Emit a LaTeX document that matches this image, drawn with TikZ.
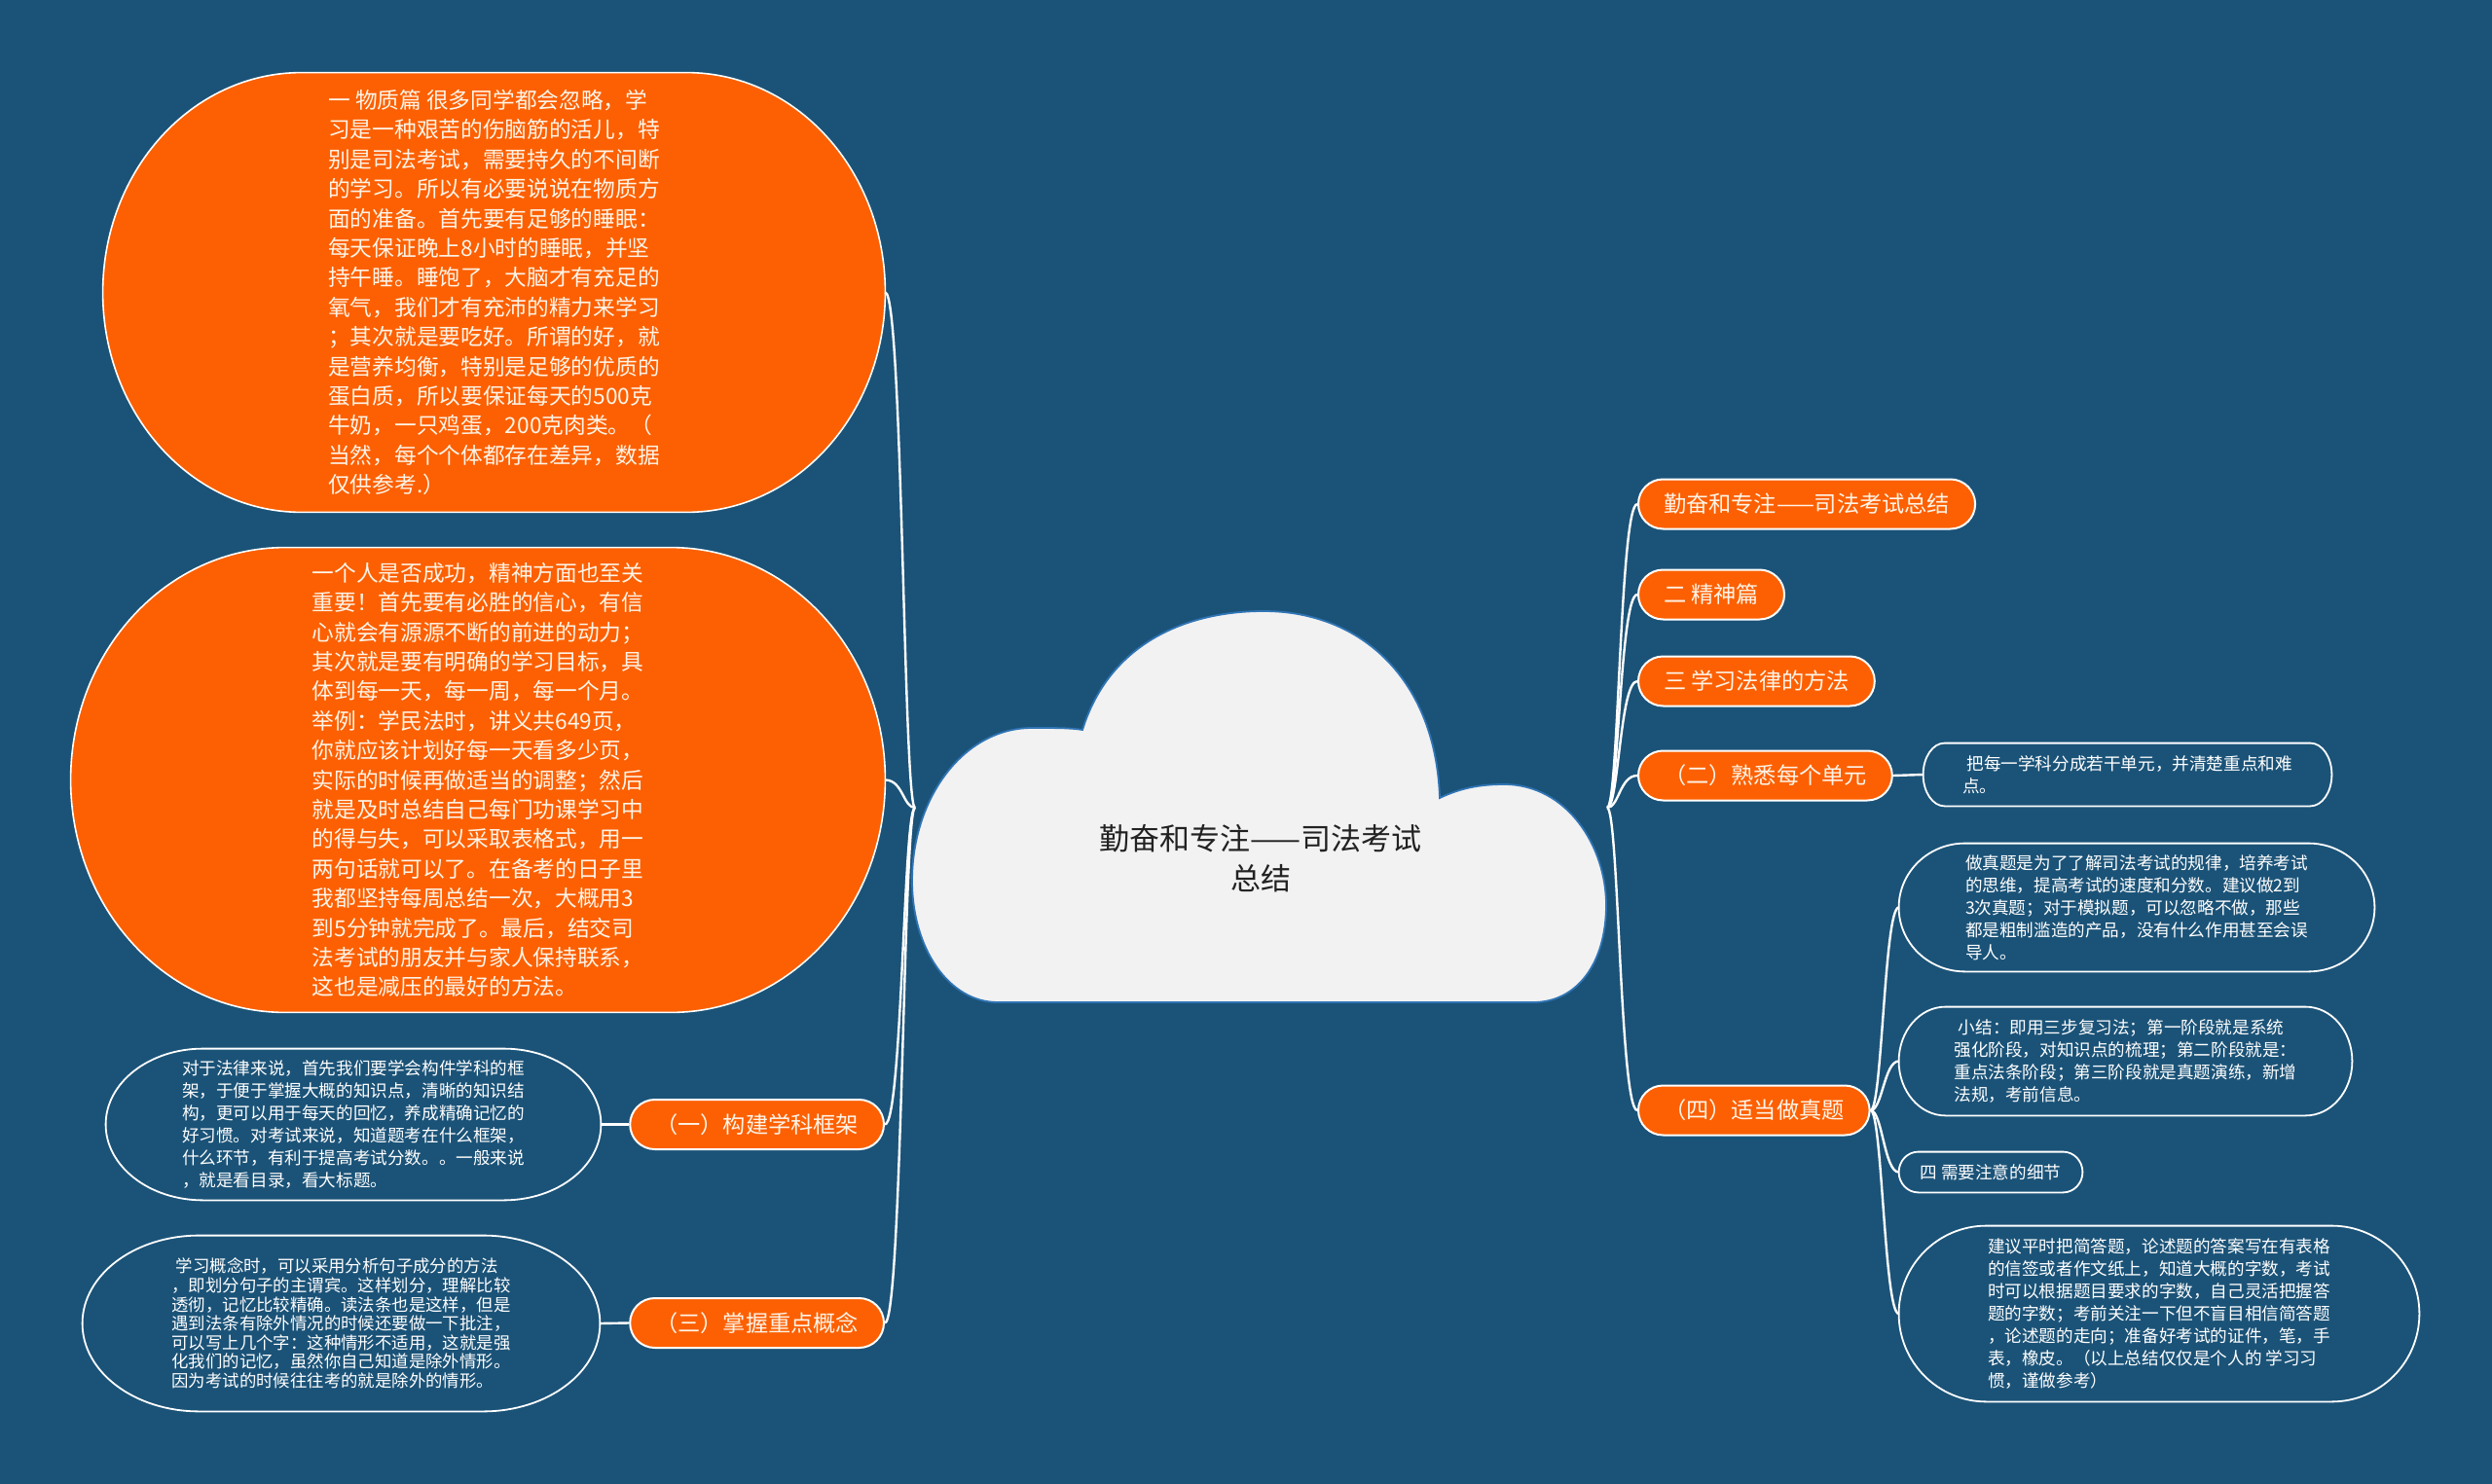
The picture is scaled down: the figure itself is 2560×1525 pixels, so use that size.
\documentclass[tikz,border=0pt]{standalone}
\usepackage{fontspec}
\setmainfont{Noto Sans CJK SC}
\usetikzlibrary{calc}
\pgfdeclarelayer{bglayer}
\pgfdeclarelayer{shapelayer}
\pgfsetlayers{bglayer,shapelayer,main}
\definecolor{bgc}{RGB}{27,83,120}
\definecolor{orangeC}{RGB}{252,96,2}
\definecolor{cloudfill}{RGB}{242,242,242}
\definecolor{cloudline}{RGB}{47,116,181}
\definecolor{cream}{RGB}{255,244,232}
\definecolor{darktext}{RGB}{34,34,34}
\newcommand\drawblob[3]{%
 \path[#1] let \p1=(#2.north west), \p2=(#2.south east), \n1={(\y1-\y2)/2}, \n2={#3pt} in
 (\x1+\n2,\y1) -- (\x2-\n2,\y1)
 .. controls (\x2-0.4477*\n2,\y1) and (\x2,\y1-0.4477*\n1) .. (\x2,\y1-\n1)
 .. controls (\x2,\y2+0.4477*\n1) and (\x2-0.4477*\n2,\y2) .. (\x2-\n2,\y2)
 -- (\x1+\n2,\y2)
 .. controls (\x1+0.4477*\n2,\y2) and (\x1,\y2+0.4477*\n1) .. (\x1,\y2+\n1)
 .. controls (\x1,\y1-0.4477*\n1) and (\x1+0.4477*\n2,\y1) .. (\x1+\n2,\y1) -- cycle;}
\begin{document}
\begin{tikzpicture}[x=0.5pt,y=-0.5pt,
 bigtext/.style={draw=none, inner sep=0pt, align=left, text=cream, font=\fontsize{11.35pt}{15.2pt}\selectfont},
 leaftext/.style={draw=none, inner sep=0pt, align=left, text=white, font=\fontsize{8.8pt}{11.45pt}\selectfont},
 pill/.style={rectangle, rounded corners=12.75pt, fill=orangeC, draw=white, line width=1pt, text=cream, font=\fontsize{11.6pt}{13pt}\selectfont, minimum height=25.5pt, inner xsep=13pt, inner ysep=0pt},
 conn/.style={draw=white, line width=1.2pt},
 oblob/.style={fill=orangeC, draw=white, line width=0.8pt},
 lblob/.style={draw=white, line width=0.9pt},
 cloudsty/.style={fill=cloudfill, draw=cloudline, line width=0.9pt}]
\useasboundingbox (0,0) rectangle (2560,1525);
\begin{pgfonlayer}{bglayer}
\fill[bgc] (0,0) rectangle (2560,1525);
\end{pgfonlayer}

% root
\node[draw=none, align=center, text=darktext, font=\fontsize{15.5pt}{20.5pt}\selectfont] (root) at (1295,882) {勤奋和专注——司法考试\\总结};
\coordinate (rootL) at (940,830);
\coordinate (rootR) at (1651,830);

% left big bubbles
\node[bigtext, minimum width=401.5pt, minimum height=225.5pt] (b1) at (507.5,300.5) {一 物质篇 很多同学都会忽略，学\\习是一种艰苦的伤脑筋的活儿，特\\别是司法考试，需要持久的不间断\\的学习。所以有必要说说在物质方\\面的准备。首先要有足够的睡眠：\\每天保证晚上8小时的睡眠，并坚\\持午睡。睡饱了，大脑才有充足的\\氧气，我们才有充沛的精力来学习\\；其次就是要吃好。所谓的好，就\\是营养均衡，特别是足够的优质的\\蛋白质，所以要保证每天的500克\\牛奶，一只鸡蛋，200克肉类。（\\当然，每个个体都存在差异，数据\\仅供参考.）};
\node[bigtext, minimum width=418pt, minimum height=238.5pt] (b2) at (491,801.5) {一个人是否成功，精神方面也至关\\重要！首先要有必胜的信心，有信\\心就会有源源不断的前进的动力；\\其次就是要有明确的学习目标，具\\体到每一天，每一周，每一个月。\\举例：学民法时，讲义共649页，\\你就应该计划好每一天看多少页，\\实际的时候再做适当的调整；然后\\就是及时总结自己每门功课学习中\\的得与失，可以采取表格式，用一\\两句话就可以了。在备考的日子里\\我都坚持每周总结一次，大概用3\\到5分钟就完成了。最后，结交司\\法考试的朋友并与家人保持联系，\\这也是减压的最好的方法。};

% left labels and leaves
\node[pill, anchor=east] (l1) at (909,1155.5) {（一）构建学科框架};
\node[pill, anchor=east] (l3) at (909,1359.5) {（三）掌握重点概念};
\node[leaftext, minimum width=254pt, minimum height=77.5pt] (s1) at (363,1155.5) {对于法律来说，首先我们要学会构件学科的框\\架，于便于掌握大概的知识点，清晰的知识结\\构，更可以用于每天的回忆，养成精确记忆的\\好习惯。对考试来说，知道题考在什么框架，\\什么环节，有利于提高考试分数。。一般来说\\，就是看目录，看大标题。};
\node[leaftext, font=\fontsize{8.7pt}{9.8pt}\selectfont, minimum width=265.5pt, minimum height=90pt] (s2) at (350.5,1360) {\hspace*{0.25em}学习概念时，可以采用分析句子成分的方法\\，即划分句子的主谓宾。这样划分，理解比较\\透彻，记忆比较精确。读法条也是这样，但是\\遇到法条有除外情况的时候还要做一下批注，\\可以写上几个字：这种情形不适用，这就是强\\化我们的记忆，虽然你自己知道是除外情形。\\因为考试的时候往往考的就是除外的情形。};

% right labels
\node[pill, anchor=west] (r1) at (1682,518) {勤奋和专注——司法考试总结};
\node[pill, anchor=west] (r2) at (1682,611) {二 精神篇};
\node[pill, anchor=west] (r3) at (1682,700) {三 学习法律的方法};
\node[pill, anchor=west] (r4) at (1682,797) {（二）熟悉每个单元};
\node[pill, anchor=west] (r5) at (1682,1141) {（四）适当做真题};

% right leaves
\node[leaftext, minimum width=209.5pt, minimum height=32pt] (q1) at (2185.5,796) {\hspace*{0.25em}把每一学科分成若干单元，并清楚重点和难\\点。};
\node[leaftext, minimum width=244pt, minimum height=65.5pt] (q2) at (2195,932.5) {做真题是为了了解司法考试的规律，培养考试\\的思维，提高考试的速度和分数。建议做2到\\3次真题；对于模拟题，可以忽略不做，那些\\都是粗制滥造的产品，没有什么作用甚至会误\\导人。};
\node[leaftext, minimum width=232.5pt, minimum height=55.5pt] (q3) at (2183.5,1090.5) {\hspace*{0.25em}小结：即用三步复习法；第一阶段就是系统\\强化阶段，对知识点的梳理；第二阶段就是：\\重点法条阶段；第三阶段就是真题演练，新增\\法规，考前信息。};
\node[leaftext, minimum width=94pt, minimum height=20.5pt] (q4) at (2045,1204.5) {四 需要注意的细节};
\node[leaftext, minimum width=267pt, minimum height=90pt] (q5) at (2218,1350) {建议平时把简答题，论述题的答案写在有表格\\的信签或者作文纸上，知道大概的字数，考试\\时可以根据题目要求的字数，自己灵活把握答\\题的字数；考前关注一下但不盲目相信简答题\\，论述题的走向；准备好考试的证件，笔，手\\表，橡皮。（以上总结仅仅是个人的 学习习\\惯，谨做参考）};

\begin{pgfonlayer}{shapelayer}
% cloud
\path[cloudsty] (1112,750) .. controls (1140,660) and (1220,628) .. (1298,628)
 .. controls (1400,628) and (1475,700) .. (1479,820)
 .. controls (1500,810) and (1520,806) .. (1545,806)
 .. controls (1610,806) and (1650,870) .. (1650,930)
 .. controls (1650,990) and (1620,1030) .. (1575,1030)
 -- (1025,1030) .. controls (975,1030) and (937,975) .. (937,905)
 .. controls (937,820) and (990,748) .. (1060,748)
 .. controls (1085,748) and (1100,748) .. (1112,750) -- cycle;
% bubbles
\drawblob{oblob}{b1}{102}
\drawblob{oblob}{b2}{110}
\drawblob{lblob}{s1}{50}
\drawblob{lblob}{s2}{60}
\drawblob{lblob}{q1}{11}
\drawblob{lblob}{q2}{34}
\drawblob{lblob}{q3}{24}
\drawblob{lblob}{q4}{10}
\drawblob{lblob}{q5}{45}
% connectors
\draw[conn] (rootL) .. controls +(-12,0) and +(18,0) .. (b1.east);
\draw[conn] (rootL) .. controls +(-12,0) and +(18,0) .. (b2.east);
\draw[conn] (rootL) .. controls +(-12,0) and +(18,0) .. (l1.east);
\draw[conn] (rootL) .. controls +(-12,0) and +(18,0) .. (l3.east);
\draw[conn] (l1.west) -- (s1.east);
\draw[conn] (l3.west) -- (s2.east);
\draw[conn] (rootR) .. controls +(12,0) and +(-18,0) .. (r1.west);
\draw[conn] (rootR) .. controls +(12,0) and +(-18,0) .. (r2.west);
\draw[conn] (rootR) .. controls +(12,0) and +(-18,0) .. (r3.west);
\draw[conn] (rootR) .. controls +(12,0) and +(-18,0) .. (r4.west);
\draw[conn] (rootR) .. controls +(12,0) and +(-18,0) .. (r5.west);
\draw[conn] (r4.east) -- (q1.west);
\draw[conn] (r5.east) .. controls +(12,0) and +(-15,0) .. (q2.west);
\draw[conn] (r5.east) .. controls +(12,0) and +(-15,0) .. (q3.west);
\draw[conn] (r5.east) .. controls +(12,0) and +(-15,0) .. (q4.west);
\draw[conn] (r5.east) .. controls +(12,0) and +(-15,0) .. (q5.west);
\end{pgfonlayer}
\end{tikzpicture}
\end{document}
